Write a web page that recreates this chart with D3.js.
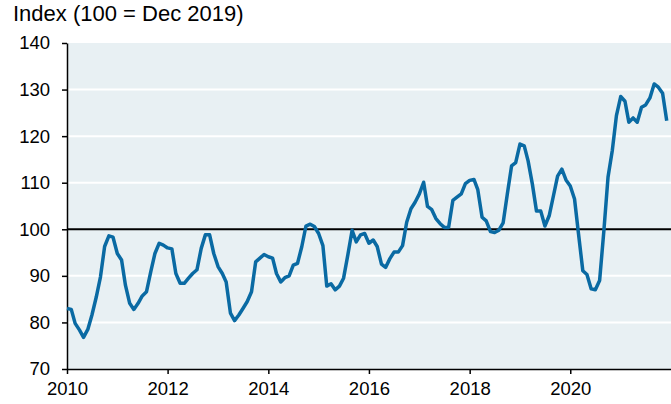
<!DOCTYPE html>
<html><head><meta charset="utf-8">
<script src="https://cdn.jsdelivr.net/npm/d3@7"></script>
<style>
html,body{margin:0;padding:0;background:#fff;}
svg{display:block;font-family:"Liberation Sans",Arial,sans-serif;}
</style></head>
<body>
<svg id="c" width="671" height="404"></svg>
<script>
const startYear = 2010;
const values2010 = [83.0, 82.8, 79.8, 78.4, 76.8, 78.5, 81.6, 85.4, 89.8, 96.3, 98.6, 98.3];
const values2011 = [94.8, 93.4, 88.0, 84.1, 82.8, 84.1, 85.7, 86.6, 90.9, 94.8, 97.0, 96.6];
const values2012 = [96.0, 95.8, 90.5, 88.4, 88.4, 89.5, 90.5, 91.3, 95.9, 98.8, 98.8, 94.8];
const values2013 = [92.0, 90.5, 88.7, 82.0, 80.4, 81.6, 83.0, 84.5, 86.6, 93.0, 93.8, 94.6];
const values2014 = [94.1, 93.8, 90.5, 88.7, 89.6, 90.0, 92.3, 92.7, 96.3, 100.7, 101.1, 100.6];
const values2015 = [99.1, 96.5, 87.8, 88.3, 87.0, 87.8, 89.5, 94.5, 99.8, 97.3, 98.8, 99.1];
const values2016 = [97.0, 97.7, 96.3, 92.5, 91.8, 93.7, 95.1, 95.1, 96.5, 101.5, 104.4, 105.8];
const values2017 = [107.6, 110.1, 104.9, 104.2, 102.3, 101.2, 100.4, 100.4, 106.2, 106.9, 107.6, 109.8];
const values2018 = [110.5, 110.7, 108.5, 102.6, 101.8, 99.5, 99.3, 99.8, 101.4, 107.5, 113.6, 114.3];
const values2019 = [118.3, 117.9, 114.7, 109.7, 103.9, 103.9, 100.7, 102.9, 107.2, 111.4, 112.9, 110.6];
const values2020 = [109.3, 106.5, 99.0, 91.1, 90.3, 87.2, 87.0, 89.0, 99.7, 111.2, 116.9, 124.4];
const values2021 = [128.5, 127.5, 123.0, 123.9, 123.0, 126.2, 126.7, 128.2, 131.2, 130.5, 129.2, 123.3];
const yTicks = [70, 80, 90, 100, 110, 120, 130, 140];
const xTickYears = [2010, 2012, 2014, 2016, 2018, 2020];
const title = "Index (100 = Dec 2019)";
const baseline = 100;

const allValues = [values2010, values2011, values2012, values2013, values2014, values2015,
  values2016, values2017, values2018, values2019, values2020, values2021].flat();
const data = allValues.map((v, i) => ({date: new Date(startYear, i, 1), value: v}));

const svg = d3.select("#c");
const pLeft = 67, pRight = 671, pTop = 43, pBottom = 369;
const x = d3.scaleTime().domain([new Date(2010,0,1), new Date(2022,0,1)]).range([pLeft, pRight]);
const y = d3.scaleLinear().domain([70, 140]).range([pBottom, pTop]);

svg.append("rect").attr("x", pLeft).attr("y", pTop).attr("width", pRight - pLeft).attr("height", pBottom - pTop)
  .attr("fill", "#e8f0f3");

svg.append("g").selectAll("line").data(yTicks.filter(t => t !== 70 && t !== 140 && t !== baseline))
  .join("line").attr("x1", pLeft).attr("x2", pRight)
  .attr("y1", d => y(d)).attr("y2", d => y(d))
  .attr("stroke", "#fff").attr("stroke-width", 2);

svg.append("line").attr("x1", pLeft).attr("x2", pRight)
  .attr("y1", y(baseline)).attr("y2", y(baseline))
  .attr("stroke", "#000").attr("stroke-width", 2);

const yAxis = svg.append("g").attr("transform", `translate(${pLeft},0)`)
  .call(d3.axisLeft(y).tickValues(yTicks).tickSize(5).tickPadding(12).tickSizeOuter(0));
yAxis.select(".domain").attr("stroke-width", 1.5);
yAxis.selectAll(".tick line").attr("stroke-width", 1.5);
yAxis.selectAll("text").attr("font-size", "18.5px").attr("fill", "#000").attr("font-family", "Liberation Sans, Arial, sans-serif");

const xAxis = svg.append("g").attr("transform", `translate(0,${pBottom})`)
  .call(d3.axisBottom(x).tickValues(xTickYears.map(yr => new Date(yr,0,1)))
    .tickFormat(d3.timeFormat("%Y")).tickSize(5).tickPadding(8).tickSizeOuter(0));
xAxis.select(".domain").attr("stroke-width", 1.5);
xAxis.selectAll(".tick line").attr("stroke-width", 1.5);
xAxis.selectAll("text").attr("font-size", "18.5px").attr("fill", "#000").attr("font-family", "Liberation Sans, Arial, sans-serif");

svg.append("path").datum(data)
  .attr("fill", "none").attr("stroke", "#0a6aa3").attr("stroke-width", 3.5)
  .attr("stroke-linejoin", "round")
  .attr("d", d3.line().x(d => x(d.date)).y(d => y(d.value)));

svg.append("text").attr("x", 13).attr("y", 21).attr("font-size", "22px").attr("fill", "#000")
  .text(title);
</script>
</body></html>
